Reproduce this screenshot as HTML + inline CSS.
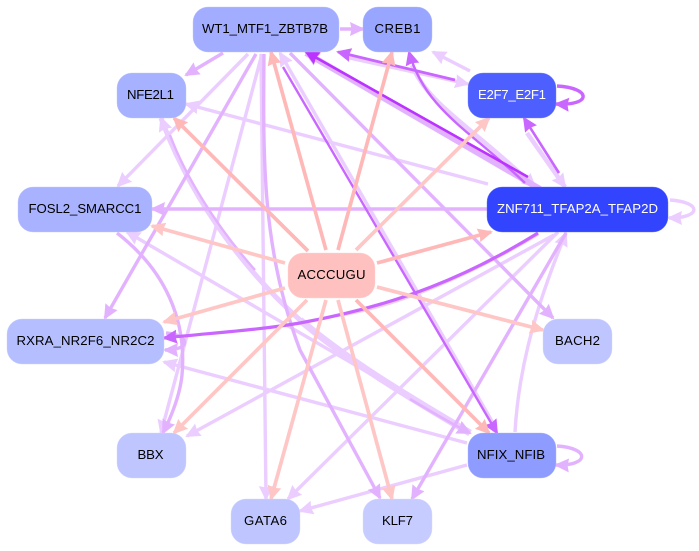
<!DOCTYPE html>
<html><head><meta charset="utf-8"><style>
html,body{margin:0;padding:0;background:#fff}
svg{display:block}
text{font-family:"Liberation Sans",sans-serif;font-size:13.2px;text-anchor:middle;fill:#000}
path{fill:none}
.l{stroke:#ebcdff;stroke-width:3.4}
.m{stroke:#e3b2ff;stroke-width:3.4}
.s{stroke:#c966ff;stroke-width:3.4}
.d{stroke:#bb33ff;stroke-width:2.6}
.p{stroke:#ffc6c6;stroke-width:3.7}
.q{stroke:#ffb8b8;stroke-width:3.7}
marker path{stroke:none}
rect{stroke-width:.4}
</style></head><body>
<svg width="699" height="551" viewBox="0 0 699 551" xmlns="http://www.w3.org/2000/svg">
<defs>
<marker id="al" markerUnits="userSpaceOnUse" markerWidth="18" markerHeight="16" refX="13" refY="7" orient="auto"><path d="M0,0L15,7L0,14L1.5,7Z" style="fill:#ebcdff"/></marker>
<marker id="am" markerUnits="userSpaceOnUse" markerWidth="18" markerHeight="16" refX="13" refY="7" orient="auto"><path d="M0,0L15,7L0,14L1.5,7Z" style="fill:#e3b2ff"/></marker>
<marker id="as" markerUnits="userSpaceOnUse" markerWidth="18" markerHeight="16" refX="13" refY="7" orient="auto"><path d="M0,0L15,7L0,14L1.5,7Z" style="fill:#c966ff"/></marker>
<marker id="ad" markerUnits="userSpaceOnUse" markerWidth="18" markerHeight="16" refX="13" refY="7" orient="auto"><path d="M0,0L15,7L0,14L1.5,7Z" style="fill:#bb33ff"/></marker>
<marker id="ap" markerUnits="userSpaceOnUse" markerWidth="18" markerHeight="16" refX="13" refY="7" orient="auto"><path d="M0,0L15,7L0,14L1.5,7Z" style="fill:#ffc6c6"/></marker>
<marker id="aq" markerUnits="userSpaceOnUse" markerWidth="18" markerHeight="16" refX="13" refY="7" orient="auto"><path d="M0,0L15,7L0,14L1.5,7Z" style="fill:#ffb8b8"/></marker>
</defs>

<!-- light edges -->
<path class="l" d="M248,54L118,186" marker-end="url(#al)"/>
<path class="l" d="M262,54L161,433" marker-end="url(#al)"/>
<path class="l" d="M261,54L266,499" marker-end="url(#al)"/>
<path class="l" d="M493,423L280,53" marker-end="url(#al)"/>
<path class="l" d="M488,184L186,104" marker-end="url(#al)"/>
<path class="l" d="M554,235L187,436" marker-end="url(#al)"/>
<path class="l" d="M558,232L288,499" marker-end="url(#al)"/>
<path class="l" d="M470,432L127,232" marker-end="url(#al)"/>
<path class="l" d="M467,443L164,362" marker-end="url(#al)"/>
<path class="l" d="M467,465L300,511" marker-end="url(#al)"/>
<path class="l" d="M515,432C518,380 530,320 566,233" marker-end="url(#al)"/>
<path class="l" d="M470,71L433,52" marker-end="url(#al)"/>
<path class="l" d="M345,57L468,84" marker-end="url(#al)"/>
<path class="l" style="stroke-width:4.5" d="M412,65C428,105 470,125 535,187" marker-end="url(#al)"/>
<path class="l" style="stroke-width:4.5" d="M527,133L565,187" marker-end="url(#al)"/>
<path class="l" d="M670,200C702,202 702,218 669,218" marker-end="url(#al)"/>
<path class="l" style="stroke-width:5" d="M300,320C255,280 195,210 161,118" marker-end="url(#al)"/>
<path class="l" style="stroke-width:7" d="M470,433C400,392 345,358 300,320"/>
<path class="l" d="M538,234C470,275 400,305 340,315"/>

<!-- mid edges -->
<path class="m" d="M340,29L363,29" marker-end="url(#am)"/>
<path class="m" d="M223,53L186,75" marker-end="url(#am)"/>
<path class="m" d="M256,54L105,318" marker-end="url(#am)"/>
<path class="m" d="M290,53L553,318" marker-end="url(#am)"/>
<path class="m" d="M487,209L152,209" marker-end="url(#am)"/>
<path class="m" d="M566,233L412,499" marker-end="url(#am)"/>
<path class="m" d="M264,54C263,160 262,250 300,350L380,498" marker-end="url(#am)"/>
<path class="m" d="M117,233C165,270 187,320 182,375C180,395 172,415 163,433" marker-end="url(#am)"/>
<path class="m" d="M557,446C590,448 590,466 556,465" marker-end="url(#am)"/>
<path class="m" d="M166,333C190,335 192,350 165,350" marker-end="url(#am)"/>
<path class="m" style="stroke-width:2.5" d="M410,399C430,411 450,423 470,433" marker-end="url(#am)"/>
<path class="m" style="stroke-width:2.4" d="M170,135C185,175 215,225 255,270"/>
<path class="m" style="stroke-width:6" d="M540,189L306,53" marker-end="url(#am)"/>

<!-- strong edges -->
<path class="s" style="stroke-width:2.8" d="M455,80L338,52" marker-end="url(#as)"/>
<path class="s" style="stroke-width:2.4" d="M525,183C470,130 425,110 409,52" marker-end="url(#as)"/>
<path class="s" style="stroke-width:2.6" d="M559,173L524,118" marker-end="url(#as)"/>
<path class="s" style="stroke-width:3.4" d="M557,86C592,88 592,106 556,104" marker-end="url(#as)"/>
<path class="s" style="stroke-width:3.2" d="M538,233C470,275 400,305 300,323C260,330 210,333 164,338" marker-end="url(#as)"/>
<path class="s" style="stroke-width:2.4" d="M283,67L497,433" marker-end="url(#as)"/>
<path class="d" d="M528,177L306,52" marker-end="url(#ad)"/>

<!-- pink edges -->
<path class="q" d="M326,250L271,52" marker-end="url(#aq)"/>
<path class="q" d="M338,250L392,52" marker-end="url(#aq)"/>
<path class="q" d="M308,251L174,118" marker-end="url(#aq)"/>
<path class="p" d="M356,250L489,118" marker-end="url(#ap)"/>
<path class="q" d="M377,263L491,232" marker-end="url(#aq)"/>
<path class="p" d="M285,263L152,226" marker-end="url(#ap)"/>
<path class="p" d="M285,288L164,322" marker-end="url(#ap)"/>
<path class="p" d="M377,287L543,330" marker-end="url(#ap)"/>
<path class="p" d="M307,300L174,433" marker-end="url(#ap)"/>
<path class="q" d="M356,300L489,433" marker-end="url(#aq)"/>
<path class="p" d="M326,300L271,499" marker-end="url(#ap)"/>
<path class="p" d="M338,300L392,499" marker-end="url(#ap)"/>

<!-- nodes -->
<rect x="193" y="7" width="146" height="45" rx="15" fill="#a3adff" stroke="#bcc4ff"/>
<rect x="363" y="7" width="69" height="45" rx="15" fill="#99a6ff" stroke="#b5bfff"/>
<rect x="117" y="73" width="69" height="45" rx="15" fill="#a6b1ff" stroke="#bfc7ff"/>
<rect x="468" y="73" width="88" height="45" rx="15" fill="#4d5fff" stroke="#7a88ff"/>
<rect x="487" y="187" width="181" height="45" rx="15" fill="#3344ff" stroke="#6675ff"/>
<rect x="18" y="187" width="134" height="45" rx="15" fill="#a9b2ff" stroke="#c3caff"/>
<rect x="288" y="253" width="87" height="45" rx="15" fill="#ffc0c0" stroke="#ffd6d6"/>
<rect x="7" y="319" width="157" height="45" rx="15" fill="#b5bfff" stroke="#ccd2ff"/>
<rect x="543" y="319" width="69" height="45" rx="15" fill="#bfc6ff" stroke="#d2d7ff"/>
<rect x="117" y="433" width="69" height="45" rx="15" fill="#bfc6ff" stroke="#d2d7ff"/>
<rect x="468" y="433" width="88" height="45" rx="15" fill="#8f9cff" stroke="#aeb7ff"/>
<rect x="231" y="499" width="69" height="45" rx="15" fill="#bfc6ff" stroke="#d2d7ff"/>
<rect x="363" y="499" width="69" height="45" rx="15" fill="#c6ccff" stroke="#d8dcff"/>

<text x="265" y="33" textLength="126" lengthAdjust="spacing">WT1_MTF1_ZBTB7B</text>
<text x="397.5" y="33" textLength="46" lengthAdjust="spacing">CREB1</text>
<text x="150.5" y="99" textLength="47" lengthAdjust="spacing">NFE2L1</text>
<text x="512" y="99" textLength="68" lengthAdjust="spacing" style="fill:#fff">E2F7_E2F1</text>
<text x="577.5" y="213" textLength="161" lengthAdjust="spacing" style="fill:#fff">ZNF711_TFAP2A_TFAP2D</text>
<text x="85" y="213" textLength="113" lengthAdjust="spacing">FOSL2_SMARCC1</text>
<text x="331.5" y="279" textLength="68" lengthAdjust="spacing">ACCCUGU</text>
<text x="85.5" y="345" textLength="138" lengthAdjust="spacing">RXRA_NR2F6_NR2C2</text>
<text x="577.5" y="345" textLength="45" lengthAdjust="spacing">BACH2</text>
<text x="150.5" y="459" textLength="26" lengthAdjust="spacing">BBX</text>
<text x="511" y="459" textLength="68" lengthAdjust="spacing">NFIX_NFIB</text>
<text x="265.5" y="525" textLength="43" lengthAdjust="spacing">GATA6</text>
<text x="397.5" y="525" textLength="31" lengthAdjust="spacing">KLF7</text>
</svg>
</body></html>
